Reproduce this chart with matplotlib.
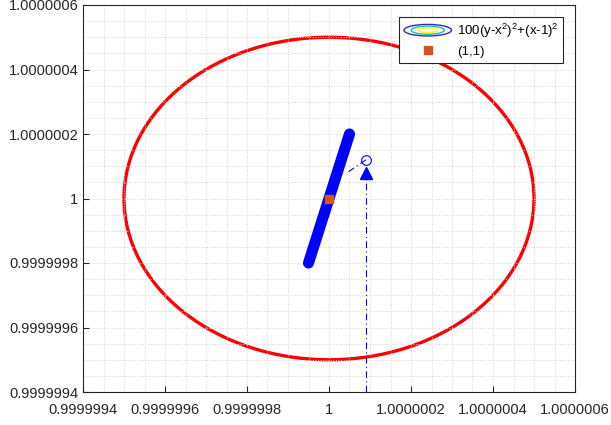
import numpy as np
import matplotlib.pyplot as plt
from matplotlib.patches import Ellipse
from matplotlib.legend_handler import HandlerBase
from matplotlib.lines import Line2D

plt.rcParams['font.family'] = ['Liberation Sans', 'DejaVu Sans']
plt.rcParams['mathtext.default'] = 'regular'

# tick positions / labels
ticks = [0.9999994, 0.9999996, 0.9999998, 1.0, 1.0000002, 1.0000004, 1.0000006]
tick_labels = ['0.9999994', '0.9999996', '0.9999998', '1',
               '1.0000002', '1.0000004', '1.0000006']

# red contour (circle round the minimum)
circle_center = (1.0, 1.0)
circle_radius = 5e-7

# thick blue contour segment
seg_x = [0.99999995, 1.00000005]
seg_y = [0.9999998, 1.0000002]

# minimum
min_x = [1.0]
min_y = [1.0]

# final iterate and arrow
iter_x = [1.00000009]
iter_y = [1.00000012]
arrow_x = [1.00000009, 1.00000009]
arrow_y = [0.9999994, 1.00000008]
step_x = [1.00000009, 1.000000044]
step_y = [1.00000012, 1.00000008]

parula = [(0.2422, 0.1504, 0.6603), (0.0704, 0.7457, 0.7258), (0.9769, 0.9839, 0.0805)]


class ContourHandler(HandlerBase):
    def create_artists(self, legend, orig, xd, yd, w, h, fontsize, trans):
        cx, cy = xd + w / 2, yd + h / 2
        arts = []
        for i, c in enumerate(parula):
            s = 1 - 0.3 * i
            e = Ellipse((cx, cy), w * 1.0 * s, h * 1.25 * s, fill=False,
                        edgecolor=c, lw=1.0, transform=trans)
            arts.append(e)
        return arts


fig = plt.figure(figsize=(6.11, 4.25), dpi=100)
ax = fig.add_axes([83 / 611, 33 / 425, 492 / 611, 387 / 425])

ax.add_patch(Ellipse(circle_center, 2 * circle_radius, 2 * circle_radius,
                     fill=False, edgecolor='red', lw=2.4))
ax.plot(seg_x, seg_y, color='blue', lw=8, solid_capstyle='round')
ax.plot(step_x, step_y, color='blue', lw=0.8, ls=(0, (6, 3, 1, 3)))
ax.plot(arrow_x, arrow_y, color='blue', lw=0.8, ls=(0, (6, 3, 1, 3)))
ax.plot(arrow_x[1:], arrow_y[1:], marker='^', color='blue', ms=8, ls='none')
ax.plot(iter_x, iter_y, marker='o', mfc='none', mec='blue', ms=7, mew=0.8, ls='none')
ax.plot(min_x, min_y, marker='s', color='#D95319', ms=6, ls='none')

ax.set_xlim(ticks[0], ticks[-1])
ax.set_ylim(ticks[0], ticks[-1])
ax.set_xticks(ticks, tick_labels)
ax.set_yticks(ticks, tick_labels)
ax.set_xticks(np.linspace(ticks[0], ticks[-1], 25), minor=True)
ax.set_yticks(np.linspace(ticks[0], ticks[-1], 25), minor=True)
ax.tick_params(which='both', direction='in', labelsize=10.5, colors='#262626',
               length=4, width=0.8)
ax.tick_params(axis='x', pad=8)
ax.tick_params(which='minor', length=0)
ax.grid(which='both', ls=':', color='#d4d4d4', lw=0.7)
for s in ax.spines.values():
    s.set_color('#262626')
    s.set_linewidth(0.8)

h1 = Line2D([], [])
h2 = Line2D([], [], marker='s', color='#D95319', ms=6, ls='none')
leg = ax.legend([h1, h2], ['100(y-x$^2$)$^2$+(x-1)$^2$', '(1,1)'],
                handler_map={h1: ContourHandler()}, loc='upper right',
                bbox_to_anchor=(0.9756, 0.969), fontsize=9.5, fancybox=False,
                edgecolor='#262626', framealpha=1, borderpad=0.35,
                borderaxespad=0, handlelength=3.6, labelspacing=0.45,
                handletextpad=0.4)
leg.get_frame().set_linewidth(0.8)

fig.savefig('out.png', dpi=100)
